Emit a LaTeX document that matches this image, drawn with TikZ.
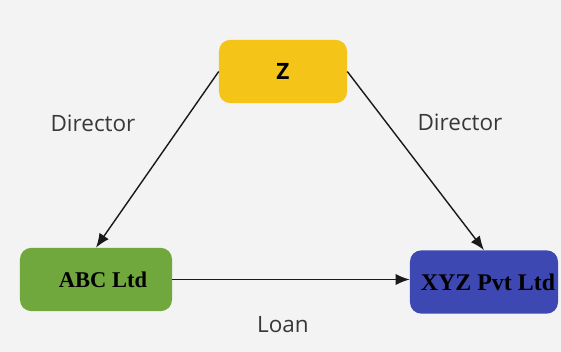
\documentclass[tikz,border=0pt]{standalone}
\usepackage{fontspec}
\setmainfont{Liberation Serif}
\newfontfamily\labelfont{Open Sans}
\usetikzlibrary{arrows.meta}
\definecolor{zyellow}{RGB}{245,196,24}
\definecolor{abcgreen}{RGB}{112,168,62}
\definecolor{xyzblue}{RGB}{62,72,178}
\definecolor{bggray}{RGB}{243,243,243}
\definecolor{labelgray}{RGB}{56,56,56}
\begin{document}
\begin{tikzpicture}[x=0.025cm,y=-0.025cm,
  party/.style={rounded corners=8pt,minimum height=1.58cm,inner sep=0pt,font=\fontsize{16}{18}\selectfont\bfseries},
  rel/.style={font=\labelfont\fontsize{16}{18}\selectfont,color=labelgray},
  link/.style={-{Latex[length=10pt,width=8pt]},line width=1pt,color=black!90}]

\fill[bggray] (0,0) rectangle (561,352);
\useasboundingbox (0,0) rectangle (561,352);

\node(z) at (283,71.5) [party,fill=zyellow,minimum width=3.2cm] {\labelfont Z};
\node(abc) at (96,279.5) [party,fill=abcgreen,minimum width=3.8cm] {\hspace{0.35cm}ABC Ltd};
\node(xyz) at (484,282) [party,fill=xyzblue,minimum width=3.7cm,font=\fontsize{17}{19}\selectfont\bfseries] {\hspace{0.2cm}XYZ Pvt Ltd};

\draw[link] (z.west) -- (abc.north);
\draw[link] (z.east) -- (xyz.north);
\draw[link] (abc.east) -- (abc.east -| xyz.west);

\node(dirl) at (93,123) [rel] {Director};
\node(dirr) at (460,122) [rel] {Director};
\node(loan) at (283,325) [rel] {Loan};

\end{tikzpicture}
\end{document}
